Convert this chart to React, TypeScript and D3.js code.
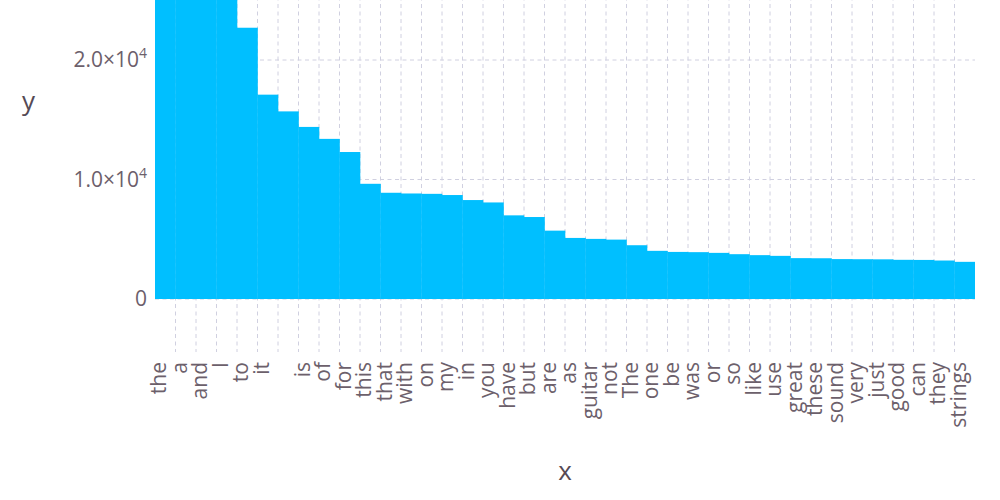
import React, { useEffect, useRef } from "react";
import * as d3 from "d3";

const words = [
  "the", "a", "and", "I", "to", "it", "", "is", "of", "for",
  "this", "that", "with", "on", "my", "in", "you", "have", "but", "are",
  "as", "guitar", "not", "The", "one", "be", "was", "or", "so", "like",
  "use", "great", "these", "sound", "very", "just", "good", "can", "they", "strings",
];

const counts = [
  35000, 28000, 26500, 25500, 22700, 17100, 15700, 14400, 13400, 12300,
  9640, 8890, 8830, 8800, 8700, 8280, 8080, 7000, 6860, 5720,
  5110, 5030, 4970, 4500, 4030, 3940, 3920, 3860, 3750, 3670,
  3610, 3420, 3410, 3340, 3330, 3320, 3280, 3270, 3220, 3110,
];

const yTickValues = [0, 10000, 20000];
const yTickMantissa = ["0", "1.0", "2.0"];

const W = 1000;
const H = 500;
const FONT = "'Open Sans', 'Noto Sans', sans-serif";

export default function App() {
  const ref = useRef<SVGSVGElement | null>(null);

  useEffect(() => {
    const svg = d3.select(ref.current);
    svg.selectAll("*").remove();

    const left = 155, right = 975, top = -146, bottom = 352;
    const keys = words.map((w, i) => i + "|" + w);
    const x = d3.scaleBand<string>().domain(keys).range([left, right]).padding(0);
    const y = d3.scaleLinear().domain([0, 10000]).range([299, 179.5]);

    const defs = svg.append("defs");
    defs.append("clipPath").attr("id", "plotclip").append("rect")
      .attr("x", left).attr("y", top).attr("width", right - left).attr("height", bottom - top);

    const grid = svg.append("g");
    keys.slice(1).forEach((k) => {
      const gx = x(k)!;
      grid.append("line").attr("x1", gx).attr("x2", gx).attr("y1", top).attr("y2", bottom)
        .attr("stroke", "#d0d0e0").attr("stroke-width", 1).attr("stroke-dasharray", "4,3.5");
    });
    [...yTickValues, 30000].forEach((v) => {
      grid.append("line").attr("x1", left).attr("x2", right).attr("y1", y(v)).attr("y2", y(v))
        .attr("stroke", "#d0d0e0").attr("stroke-width", 1).attr("stroke-dasharray", "4,3.5");
    });

    svg.append("g").attr("clip-path", "url(#plotclip)")
      .selectAll("rect").data(counts).enter().append("rect")
      .attr("x", (_d, i) => x(keys[i])!)
      .attr("width", x.bandwidth() + 0.3)
      .attr("y", (d) => y(d))
      .attr("height", (d) => y(0) - y(d))
      .attr("fill", "#00bfff");

    const yt = svg.append("g").attr("font-family", FONT).attr("fill", "#6c606b").attr("font-size", 21);
    yTickValues.forEach((v, i) => {
      const t = yt.append("text").attr("x", 147).attr("y", y(v)).attr("dy", "0.35em").attr("text-anchor", "end");
      if (v === 0) {
        t.text("0");
      } else {
        t.append("tspan").text(yTickMantissa[i] + "×10");
        t.append("tspan").attr("font-size", 14).attr("dy", -9).text("4");
      }
    });

    const xt = svg.append("g").attr("font-family", FONT).attr("fill", "#6c606b").attr("font-size", 21);
    keys.forEach((k, i) => {
      const cx = x(k)! + x.bandwidth() / 2 + 0.8;
      xt.append("text")
        .attr("transform", `translate(${cx},362) rotate(-90)`)
        .attr("text-anchor", "end")
        .text(words[i]);
    });

    svg.append("text").attr("x", (left + right) / 2).attr("y", 480).attr("text-anchor", "middle")
      .attr("font-family", FONT).attr("font-size", 26).attr("fill", "#564a55").text("x");
    svg.append("text").attr("x", 28.5).attr("y", 110).attr("text-anchor", "middle")
      .attr("font-family", FONT).attr("font-size", 26).attr("fill", "#564a55").text("y");
  }, []);

  return (
    <svg ref={ref} width={W} height={H}
      style={{ position: "absolute", left: 0, top: 0, display: "block", background: "#fff" }} />
  );
}
